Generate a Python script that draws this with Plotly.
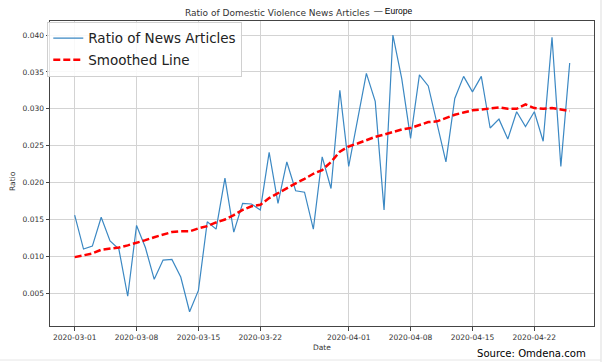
import plotly.graph_objects as go
import pandas as pd

dates = pd.date_range("2020-03-01", "2020-04-26", freq="D").strftime("%Y-%m-%d").tolist()

ratio = [
    0.0156, 0.0110, 0.0114, 0.0153, 0.0121, 0.0110, 0.0046, 0.0142, 0.0112, 0.0069,
    0.0095, 0.0096, 0.0072, 0.0025, 0.0054, 0.0147, 0.0137, 0.0206, 0.0133, 0.0172,
    0.0171, 0.0163, 0.0241, 0.0172, 0.0228, 0.0189, 0.0187, 0.0137, 0.0235, 0.0192,
    0.0325, 0.0222, 0.0285, 0.0348, 0.0310, 0.0163, 0.0400, 0.0341, 0.0260, 0.0346,
    0.0331, 0.0280, 0.0228, 0.0314, 0.0344, 0.0323, 0.0344, 0.0274, 0.0286, 0.0259,
    0.0296, 0.0276, 0.0296, 0.0256, 0.0397, 0.0222, 0.0362,
]

smoothed = [
    0.0099, 0.0101, 0.0104, 0.0109, 0.0110, 0.0112, 0.0115, 0.0118, 0.0122, 0.0126,
    0.0130, 0.0133, 0.0134, 0.0134, 0.0138, 0.0141, 0.0146, 0.0150, 0.0156, 0.0163,
    0.0168, 0.0170, 0.0179, 0.0186, 0.0192, 0.0199, 0.0205, 0.0212, 0.0217, 0.0228,
    0.0242, 0.0249, 0.0253, 0.0258, 0.0262, 0.0265, 0.0269, 0.0272, 0.0274, 0.0278,
    0.0282, 0.0283, 0.0288, 0.0292, 0.0295, 0.0298, 0.0299, 0.0301, 0.0302, 0.0300,
    0.0300, 0.0306, 0.0301, 0.0300, 0.0301, 0.0299, 0.0297,
]

xtick_vals = ["2020-03-01", "2020-03-08", "2020-03-15", "2020-03-22",
              "2020-04-01", "2020-04-08", "2020-04-15", "2020-04-22"]
ytick_vals = [0.005, 0.010, 0.015, 0.020, 0.025, 0.030, 0.035, 0.040]
ytick_text = ["0.005", "0.010", "0.015", "0.020", "0.025", "0.030", "0.035", "0.040"]

FONT = "DejaVu Sans"

fig = go.Figure()
fig.add_trace(go.Scatter(
    x=dates, y=ratio, mode="lines", name="Ratio of News Articles",
    legendgroup="a",
    line=dict(color="#3b88c3", width=1.2),
))
fig.add_trace(go.Scatter(
    x=dates, y=smoothed, mode="lines", name="Smoothed Line",
    legendgroup="b",
    line=dict(color="#ff0000", width=2.5, dash="7px,3px"),
))

fig.update_layout(
    width=606, height=362,
    margin=dict(l=50, r=12, t=21, b=36),
    paper_bgcolor="white", plot_bgcolor="white",
    font=dict(family=FONT, color="#333", size=7.5),
    showlegend=True,
    legend=dict(
        x=-0.005, y=0.997, xanchor="left", yanchor="top",
        font=dict(family=FONT, size=13.5, color="#222"),
        bgcolor="rgba(255,255,255,0.85)", bordercolor="#d0d0d0", borderwidth=1,
        itemwidth=30, traceorder="grouped", tracegroupgap=1,
    ),
    xaxis=dict(
        type="date",
        range=["2020-02-27 05:00", "2020-04-28 18:00"],
        tickvals=xtick_vals, ticktext=xtick_vals,
        showgrid=True, gridcolor="#d3d3d3", gridwidth=1,
        showline=True, linecolor="#444", linewidth=1, mirror=True,
        ticks="outside", ticklen=3.5, tickcolor="#444",
        tickfont=dict(family=FONT, size=7.5, color="#333"),
        zeroline=False,
    ),
    yaxis=dict(
        range=[0.00057, 0.0419],
        tickvals=ytick_vals, ticktext=ytick_text,
        showgrid=True, gridcolor="#d3d3d3", gridwidth=1,
        showline=True, linecolor="#444", linewidth=1, mirror=True,
        ticks="outside", ticklen=3.5, tickcolor="#444",
        tickfont=dict(family=FONT, size=7.5, color="#333"),
        zeroline=False,
    ),
    annotations=[
        dict(text="Ratio of Domestic Violence News Articles", xref="paper", yref="paper",
             x=(277 - 50) / 544, y=1 + (21 - 13) / 305, xanchor="center", yanchor="middle",
             showarrow=False, font=dict(family=FONT, size=9, color="#333")),
        dict(text="— Europe", xref="paper", yref="paper",
             x=(372 - 50) / 544, y=1 + (21 - 11) / 305, xanchor="left", yanchor="middle",
             showarrow=False, font=dict(family="Liberation Sans", size=8.5, color="#000")),
        dict(text="Date", xref="paper", yref="paper",
             x=0.5, y=-(347 - 326) / 305, xanchor="center", yanchor="middle",
             showarrow=False, font=dict(family=FONT, size=7.5, color="#333")),
        dict(text="Ratio", xref="paper", yref="paper", textangle=-90,
             x=-(50 - 12) / 544, y=(326 - 181) / 305, xanchor="center", yanchor="middle",
             showarrow=False, font=dict(family=FONT, size=7.5, color="#333")),
        dict(text="Source: Omdena.com", xref="paper", yref="paper",
             x=(588 - 50) / 544, y=-(353 - 326) / 305, xanchor="right", yanchor="middle",
             showarrow=False,
             font=dict(family="Liberation Sans Narrow, DejaVu Sans Condensed, sans-serif",
                       size=11.2, color="#000")),
    ],
    shapes=[
        dict(type="line", xref="paper", yref="paper",
             x0=(601 - 50) / 544, x1=(601 - 50) / 544, y0=-36 / 305, y1=1 + 21 / 305,
             line=dict(color="#dddddd", width=1)),
        dict(type="line", xref="paper", yref="paper",
             x0=-50 / 544, x1=(601 - 50) / 544, y0=-(360 - 326) / 305, y1=-(360 - 326) / 305,
             line=dict(color="#e6e6e6", width=1)),
    ],
)

fig.write_html("out.html", config={"displayModeBar": False},
               post_script="document.body.style.margin='0';document.body.style.padding='0';")
